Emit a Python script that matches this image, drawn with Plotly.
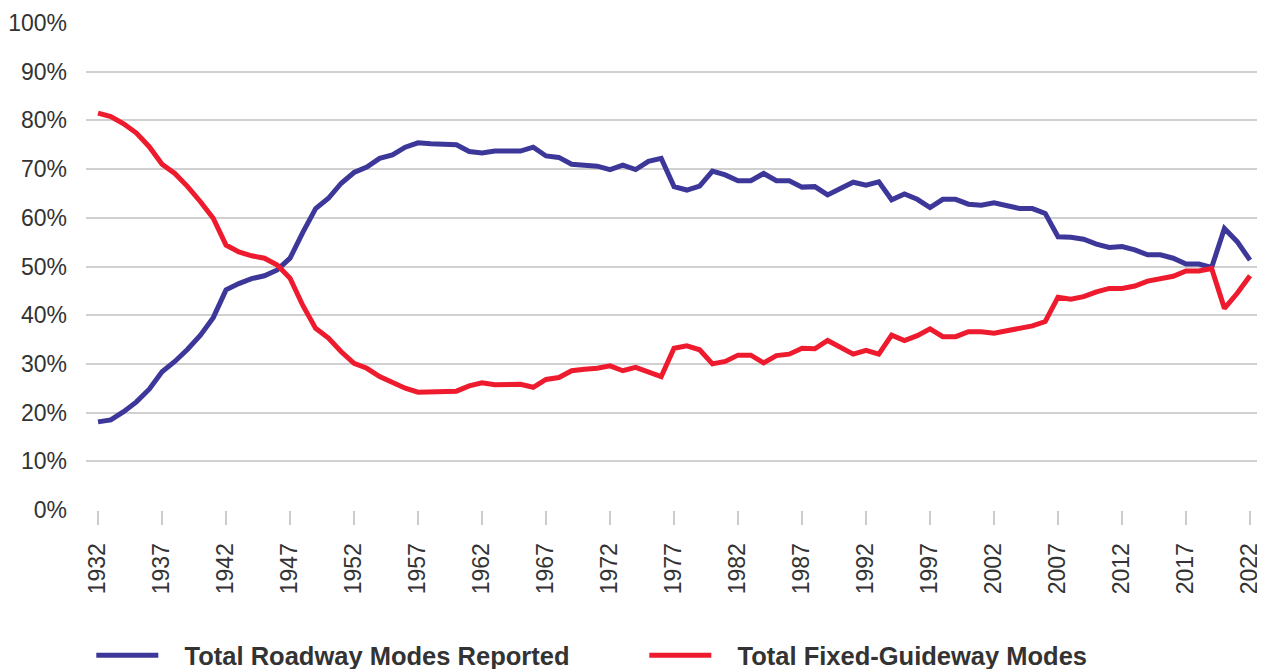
import plotly.graph_objects as go

years = list(range(1932, 2023))

roadway = [
    18.1, 18.5, 20.2, 22.2, 24.8, 28.4, 30.5, 33.0, 35.9, 39.5,   # 1932-1941
    45.2, 46.5, 47.5, 48.1, 49.3, 51.7, 57.0, 61.9, 64.0, 67.1,   # 1942-1951
    69.3, 70.4, 72.2, 72.9, 74.5, 75.4, 75.2, 75.2, 75.0, 73.6,   # 1952-1961
    73.3, 73.7, 73.7, 73.7, 74.5, 72.7, 72.4, 71.0, 70.8, 70.6,   # 1962-1971
    69.9, 70.8, 69.9, 71.6, 72.2, 66.4, 65.7, 66.5, 69.6, 68.8,   # 1972-1981
    67.6, 67.6, 69.1, 67.6, 67.6, 66.3, 66.4, 64.7, 66.0, 67.3,   # 1982-1991
    66.7, 67.4, 63.7, 64.9, 63.8, 62.1, 63.8, 63.8, 62.8, 62.6,   # 1992-2001
    63.1, 62.4, 61.9, 61.9, 60.9, 56.1, 56.0, 55.6, 54.6, 53.9,   # 2002-2011
    54.1, 53.4, 52.4, 52.4, 51.7, 50.5, 50.5, 49.8, 57.8, 55.1,   # 2012-2021
    51.3,                                                         # 2022
]

guideway = [
    81.5, 80.8, 79.3, 77.4, 74.6, 71.0, 69.1, 66.4, 63.3, 59.9,   # 1932-1941
    54.4, 53.0, 52.2, 51.7, 50.3, 47.6, 42.0, 37.3, 35.3, 32.5,   # 1942-1951
    30.1, 29.1, 27.4, 26.3, 25.0, 24.2, 24.2, 24.4, 24.4, 25.5,   # 1952-1961
    26.1, 25.7, 25.8, 25.8, 25.2, 26.8, 27.2, 28.6, 28.9, 29.1,   # 1962-1971
    29.6, 28.6, 29.3, 28.3, 27.4, 33.2, 33.7, 32.9, 30.0, 30.5,   # 1972-1981
    31.8, 31.8, 30.2, 31.7, 32.0, 33.2, 33.1, 34.8, 33.4, 32.0,   # 1982-1991
    32.8, 32.0, 35.9, 34.8, 35.8, 37.2, 35.6, 35.6, 36.6, 36.6,   # 1992-2001
    36.3, 36.8, 37.4, 37.8, 38.7, 43.7, 43.3, 43.8, 44.8, 45.5,   # 2002-2011
    45.5, 46.0, 47.0, 47.4, 48.0, 49.1, 49.1, 49.6, 41.4, 44.5,   # 2012-2021
    48.1,                                                         # 2022
]

series_names = ["Total Roadway Modes Reported", "Total Fixed-Guideway Modes"]
series_colors = ["#3d3799", "#ee1b2e"]

x_tick_years = list(range(1932, 2023, 5))
y_tick_values = list(range(0, 101, 10))
y_tick_labels = [f"{v}%" for v in y_tick_values]

NB = "\u00a0\u00a0\u00a0"

fig = go.Figure()
for name, vals, col in zip(series_names, [roadway, guideway], series_colors):
    fig.add_trace(go.Scatter(
        x=years, y=vals, mode="lines", name=NB + name,
        line=dict(color=col, width=5),
    ))

# page has an 8px body margin, so figure is 8px smaller and shifted
fig.update_layout(
    width=1257, height=661,
    margin=dict(l=78, r=0, t=15, b=159),
    paper_bgcolor="white", plot_bgcolor="white",
    font=dict(family="Liberation Sans, Arial, sans-serif", color="#333333"),
    showlegend=True,
    legend=dict(
        orientation="h", x=0.0045, xanchor="left",
        yref="container", y=0.020, yanchor="middle",
        font=dict(size=25.5, color="#333333", family="Liberation Sans, Arial, sans-serif", weight="bold"),
        entrywidth=476, entrywidthmode="pixels",
        itemwidth=62,
        tracegroupgap=0,
    ),
)

fig.update_xaxes(
    range=[1931.06, 2023.17],
    tickmode="array", tickvals=x_tick_years,
    ticktext=[str(y) for y in x_tick_years],
    tickangle=-90,
    ticks="outside", ticklen=14, tickwidth=1.5, tickcolor="#cccccc",
    tickfont=dict(size=23, color="#333333"),
    ticklabelstandoff=9,
    showgrid=False, zeroline=False, showline=False,
)

fig.update_yaxes(
    range=[0, 100],
    tickmode="array", tickvals=y_tick_values, ticktext=y_tick_labels,
    tickfont=dict(size=23, color="#333333"),
    showgrid=True, gridcolor="#d0d0d0", gridwidth=1.5,
    zeroline=False, showline=False, ticks="",
    ticklabelstandoff=18,
)

fig.write_html("out.html")
